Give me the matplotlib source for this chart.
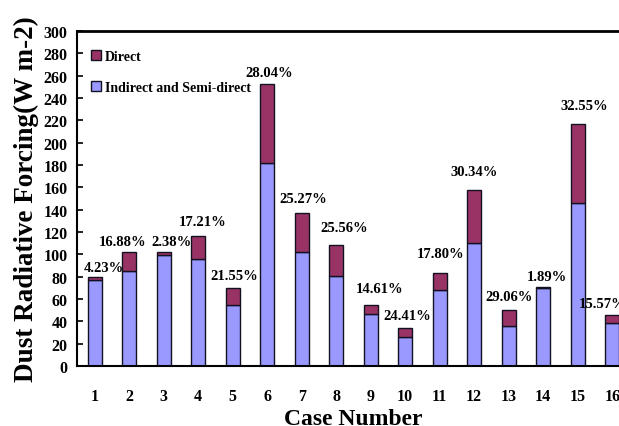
import numpy as np
import matplotlib
matplotlib.use('Agg')
import matplotlib.pyplot as plt

# Данные
cases = [str(i) for i in range(1, 17)]
indirect = [76.6, 84.8, 99.6, 96.0, 55.0, 181.3, 102.4, 80.4, 46.6, 25.7, 68.2, 109.8, 35.5, 69.4, 146.2, 38.6]
direct = [3.4, 17.2, 2.4, 20.0, 15.0, 70.7, 34.6, 27.6, 8.0, 8.3, 14.8, 47.8, 14.5, 1.3, 70.5, 7.1]
pct_labels = ['4.23%', '16.88%', '2.38%', '17.21%', '21.55%', '28.04%', '25.27%', '25.56%',
              '14.61%', '24.41%', '17.80%', '30.34%', '29.06%', '1.89%', '32.55%', '15.57%']

# Сдвиги подписей (в пикселях) относительно верха столбца
label_dx = [9, -7, 8, 4, 2, 2, 2, 8, 9, 2, 1, 0, 0, 4, 6, -10]
label_dy = [9, 11, 11, 15, 12, 12, 14, 18, 17, 13, 20, 18, 14, 11, 18, 11]

plt.rcParams['font.family'] = ['Liberation Serif', 'DejaVu Serif']
plt.rcParams['font.weight'] = 'bold'

fig = plt.figure(figsize=(6.19, 4.27), dpi=100)
ax = fig.add_axes([0.125, 0.1405, 0.892, 0.785])

x = np.arange(1, len(cases) + 1)
w = 0.4
ax.bar(x, indirect, w, color='#9999FF', edgecolor='#111122', linewidth=1.0,
       label='Indirect and Semi-direct')
ax.bar(x, direct, w, bottom=indirect, color='#993366', edgecolor='#111122', linewidth=1.0,
       label='Direct')

# Подписи процентов над столбцами
totals = np.array(indirect) + np.array(direct)
for xi, t, s, dx, dy in zip(x, totals, pct_labels, label_dx, label_dy):
    ax.annotate(s, (xi, t), xytext=(dx * 0.72, dy * 0.72), textcoords='offset points',
                ha='center', va='center', fontsize=10.5, fontweight='bold')

ax.set_xlim(0.5, 16.5)
ax.set_ylim(0, 300)
ax.set_yticks(np.arange(0, 301, 20))
ax.set_xticks(x)
ax.set_xticklabels(cases)
ax.tick_params(axis='y', direction='in', length=4, width=1.2, labelsize=11.5, pad=7)
ax.tick_params(axis='x', length=0, labelsize=11.5, pad=16)

ax.spines['right'].set_visible(False)
ax.spines['top'].set_linewidth(2)
ax.spines['left'].set_linewidth(1.5)
ax.spines['bottom'].set_linewidth(1.5)

ax.set_xlabel('Case Number', fontsize=17, fontweight='bold', labelpad=3)
ax.set_ylabel('Dust Radiative Forcing(W m-2)', fontsize=19.5, fontweight='bold', labelpad=3)

h, l = ax.get_legend_handles_labels()
ax.legend(h[::-1], l[::-1], loc='upper left', bbox_to_anchor=(0.0, 0.985), frameon=False,
          fontsize=10, handlelength=0.7, handleheight=0.7, handletextpad=0.3,
          labelspacing=1.3, borderaxespad=0.6)

fig.savefig('out.png', dpi=100)
